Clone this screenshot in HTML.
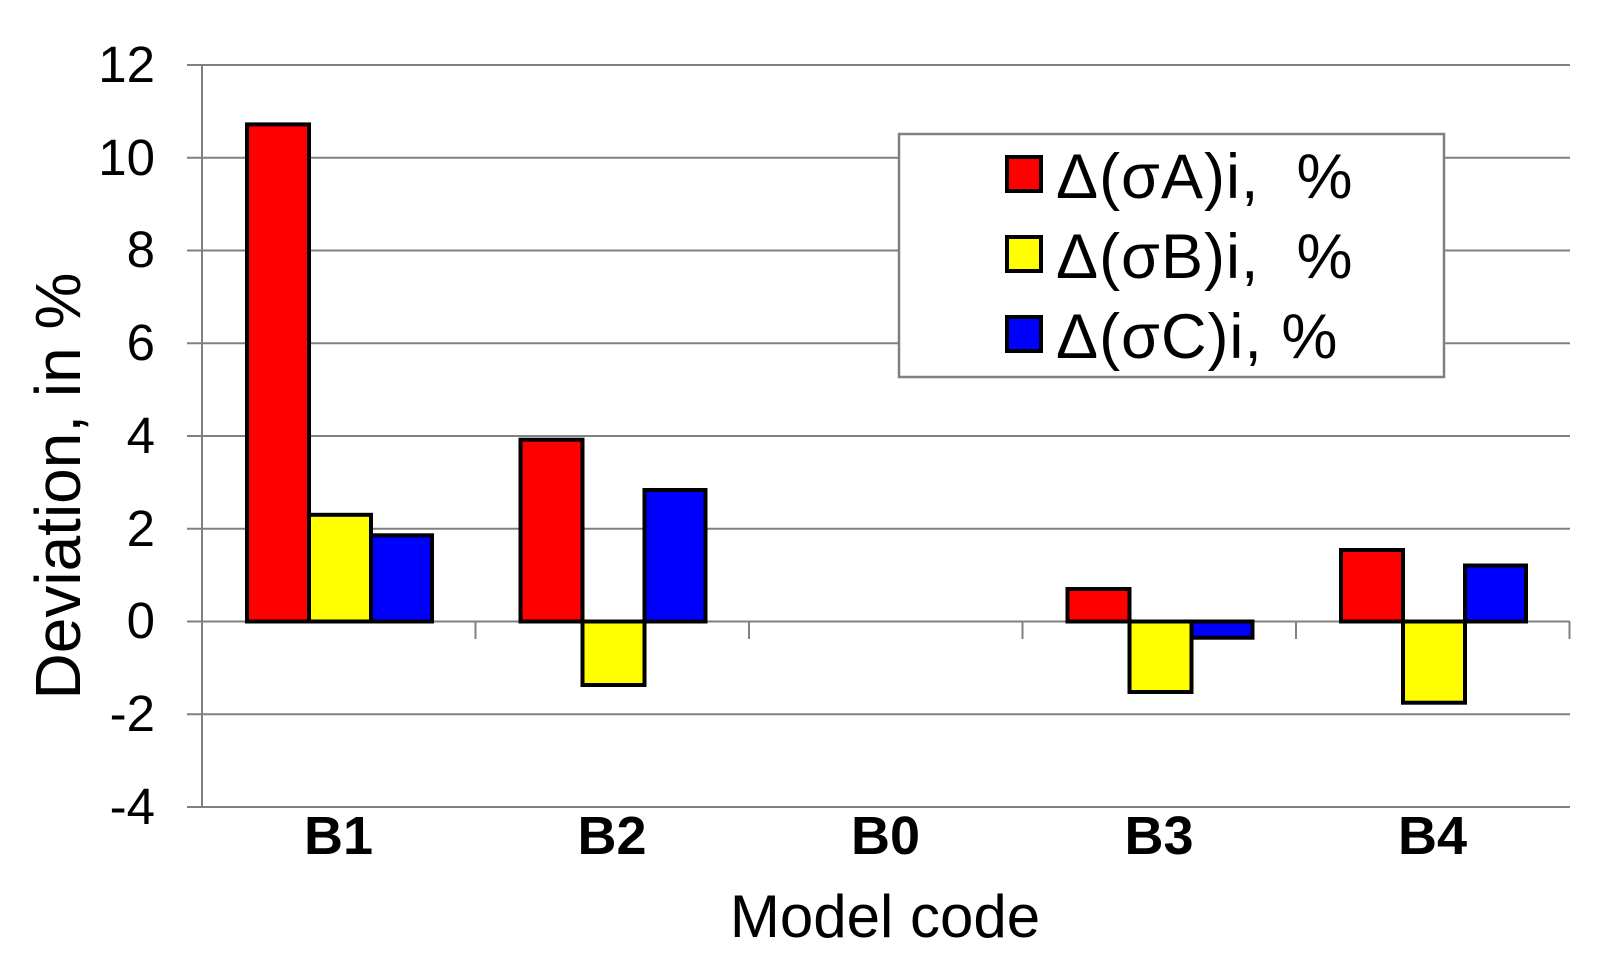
<!DOCTYPE html>
<html><head><meta charset="utf-8"><style>
html,body{margin:0;padding:0;background:#fff;}
svg{display:block;font-family:"Liberation Sans",Arial,sans-serif;}
.lg text{white-space:pre;}
</style></head><body>
<svg width="1612" height="978" viewBox="0 0 1612 978" xmlns="http://www.w3.org/2000/svg">
<g stroke="#808080" stroke-width="2">
<line x1="187" y1="65" x2="1570" y2="65"/>
<line x1="187" y1="157.75" x2="1570" y2="157.75"/>
<line x1="187" y1="250.5" x2="1570" y2="250.5"/>
<line x1="187" y1="343.25" x2="1570" y2="343.25"/>
<line x1="187" y1="436" x2="1570" y2="436"/>
<line x1="187" y1="528.75" x2="1570" y2="528.75"/>
<line x1="187" y1="621.5" x2="1570" y2="621.5"/>
<line x1="187" y1="714.25" x2="1570" y2="714.25"/>
<line x1="187" y1="807" x2="1570" y2="807"/>
<line x1="202" y1="65" x2="202" y2="807"/>
<line x1="475.5" y1="621.5" x2="475.5" y2="639"/>
<line x1="749" y1="621.5" x2="749" y2="639"/>
<line x1="1022.5" y1="621.5" x2="1022.5" y2="639"/>
<line x1="1296" y1="621.5" x2="1296" y2="639"/>
<line x1="1569.5" y1="621.5" x2="1569.5" y2="639"/>
</g>
<g stroke="#000" stroke-width="4">
<rect x="247" y="124.4" width="62" height="497.1" fill="#ff0000"/>
<rect x="309" y="514.8" width="62" height="106.7" fill="#ffff00"/>
<rect x="371" y="535.3" width="61" height="86.2" fill="#0000ff"/>
<rect x="520.5" y="439.7" width="62" height="181.8" fill="#ff0000"/>
<rect x="582.5" y="621.5" width="62" height="63.5" fill="#ffff00"/>
<rect x="644.5" y="490" width="61" height="131.5" fill="#0000ff"/>
<rect x="1067.5" y="589" width="62" height="32.5" fill="#ff0000"/>
<rect x="1129.5" y="621.5" width="62" height="70.5" fill="#ffff00"/>
<rect x="1191.5" y="621.5" width="61" height="16.2" fill="#0000ff"/>
<rect x="1341" y="550" width="62" height="71.5" fill="#ff0000"/>
<rect x="1403" y="621.5" width="62" height="81.2" fill="#ffff00"/>
<rect x="1465" y="565.5" width="61" height="56" fill="#0000ff"/>
</g>
<g font-size="51" text-anchor="end" fill="#000">
<text x="155" y="82">12</text>
<text x="155" y="175">10</text>
<text x="155" y="267">8</text>
<text x="155" y="360">6</text>
<text x="155" y="453">4</text>
<text x="155" y="546">2</text>
<text x="155" y="638">0</text>
<text x="155" y="731">-2</text>
<text x="155" y="824">-4</text>
</g>
<text transform="translate(80,486) rotate(-90)" font-size="64" text-anchor="middle">Deviation, in %</text>
<g font-size="54" font-weight="bold" text-anchor="middle">
<text x="338.5" y="854">B1</text>
<text x="612" y="854">B2</text>
<text x="885.5" y="854">B0</text>
<text x="1159" y="854">B3</text>
<text x="1432.5" y="854">B4</text>
</g>
<text x="885" y="937" font-size="60" text-anchor="middle">Model code</text>
<rect x="899" y="134" width="545" height="243" fill="#fff" stroke="#808080" stroke-width="2.5"/>
<g stroke="#000" stroke-width="4">
<rect x="1007" y="157" width="34" height="34" fill="#ff0000"/>
<rect x="1007" y="237" width="34" height="34" fill="#ffff00"/>
<rect x="1007" y="317" width="34" height="34" fill="#0000ff"/>
</g>
<g class="lg" font-size="63" letter-spacing="1">
<text x="1056" y="198">Δ(σA)i,  %</text>
<text x="1056" y="278">Δ(σB)i,  %</text>
<text x="1056" y="358">Δ(σC)i, %</text>
</g>
</svg>
</body></html>
